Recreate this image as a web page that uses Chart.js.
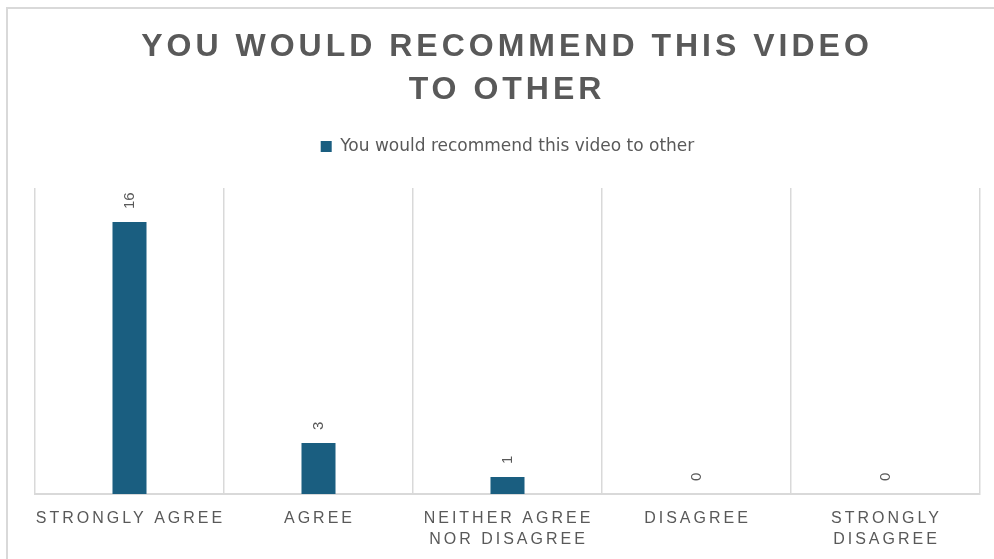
<!DOCTYPE html>
<html>
<head>
<meta charset="utf-8">
<script src="https://cdn.jsdelivr.net/npm/chart.js@4"></script>
<style>
  html, body { margin: 0; padding: 0; background: #fff; }
  #wrap { position: relative; width: 994px; height: 559px; overflow: hidden; }
  #frame { position: absolute; left: 6px; top: 7px; width: 1000px; height: 600px; border: 2px solid #d9d9d9; box-sizing: border-box; }
  canvas { position: absolute; left: 0; top: 0; }
</style>
</head>
<body>
<div id="wrap">
  <div id="frame"></div>
  <canvas id="chart" width="994" height="559"></canvas>
</div>
<script>
// survey answers
const categories = [
  ['STRONGLY AGREE'],
  ['AGREE'],
  ['NEITHER AGREE', 'NOR DISAGREE'],
  ['DISAGREE'],
  ['STRONGLY', 'DISAGREE']
];
const counts = [16, 3, 1, 0, 0];
const seriesName = 'You would recommend this video to other';
const titleLines = ['YOU WOULD RECOMMEND THIS VIDEO', 'TO OTHER'];

const TEXT = '#595959';
const BAR = '#1a5e80';
const FONT = '"Liberation Sans", Arial, sans-serif';

// extra room under the legend
const legendGap = {
  id: 'legendGap',
  beforeInit(chart) {
    const fit = chart.legend.fit;
    chart.legend.fit = function () {
      fit.call(this);
      this.height += 23;
    };
  }
};

// title, category labels and value labels are drawn by hand (need letter spacing / rotation)
const extras = {
  id: 'extras',
  afterDraw(chart) {
    const ctx = chart.ctx;
    const xs = chart.scales.x;
    ctx.save();
    ctx.fillStyle = TEXT;

    // title
    ctx.font = 'bold 32px ' + FONT;
    ctx.letterSpacing = '4px';
    ctx.textAlign = 'center';
    ctx.textBaseline = 'middle';
    const cx = chart.width / 2;
    ctx.fillText(titleLines[0], cx + 10, 47);
    ctx.fillText(titleLines[1], cx + 10, 90);

    // category labels
    ctx.font = '16px ' + FONT;
    ctx.letterSpacing = '3px';
    categories.forEach((lines, i) => {
      const x = xs.getPixelForValue(i);
      lines.forEach((t, j) => ctx.fillText(t, x + 1, 519 + j * 21));
    });

    // value labels, rotated
    ctx.font = '15px ' + FONT;
    ctx.letterSpacing = '0px';
    ctx.textAlign = 'left';
    const meta = chart.getDatasetMeta(0);
    meta.data.forEach((bar, i) => {
      ctx.save();
      ctx.translate(bar.x, bar.y - 13);
      ctx.rotate(-Math.PI / 2);
      ctx.fillText(String(counts[i]), 0, 0);
      ctx.restore();
    });
    ctx.restore();
  }
};

new Chart(document.getElementById('chart'), {
  type: 'bar',
  data: {
    labels: categories.map(c => c.join(' ')),
    datasets: [{
      label: seriesName,
      data: counts,
      backgroundColor: BAR,
      borderWidth: 0,
      categoryPercentage: 1,
      barPercentage: 0.18
    }]
  },
  options: {
    responsive: false,
    animation: false,
    layout: { padding: { left: 35, right: 14, top: 128, bottom: 65 } },
    plugins: {
      title: { display: false },
      tooltip: { enabled: false },
      legend: {
        position: 'top',
        labels: {
          color: TEXT,
          font: { family: '"DejaVu Sans", sans-serif', size: 17 },
          boxWidth: 11,
          boxHeight: 11,
          padding: 10
        }
      }
    },
    scales: {
      x: {
        ticks: { display: false },
        grid: { display: true, offset: true, color: '#d9d9d9', lineWidth: 1.5, drawTicks: false },
        border: { display: true, color: '#d9d9d9', width: 2 }
      },
      y: {
        display: false,
        min: 0,
        max: 18
      }
    }
  },
  plugins: [legendGap, extras]
});
</script>
</body>
</html>
